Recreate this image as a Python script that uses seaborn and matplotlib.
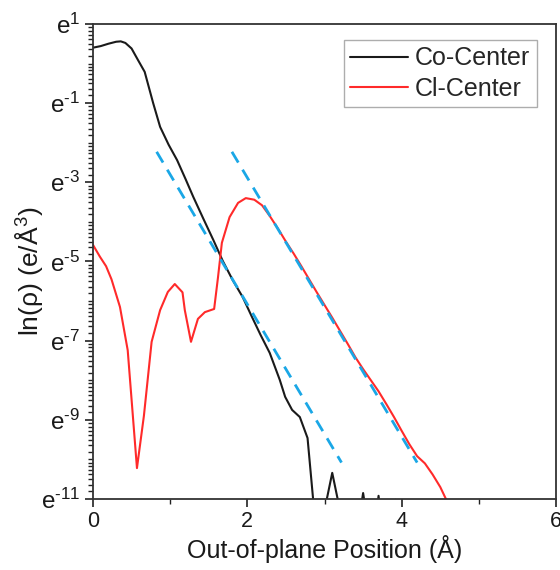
import numpy as np
import pandas as pd
import matplotlib
matplotlib.use("Agg")
import matplotlib.pyplot as plt
from matplotlib.ticker import FixedLocator, FixedFormatter, NullFormatter
import seaborn as sns

# Out-of-plane density profiles, values given as ln(rho)
co_x = [0.00, 0.10, 0.20, 0.30, 0.36, 0.42, 0.50, 0.58, 0.67, 0.78, 0.87, 0.98,
        1.09, 1.20, 1.30, 1.43, 1.56, 1.68, 1.81, 1.94, 2.05, 2.17, 2.29, 2.42,
        2.49, 2.58, 2.68, 2.78, 2.88, 3.00, 3.03, 3.10, 3.17, 3.44, 3.50, 3.56,
        3.66, 3.70, 3.74, 3.88, 3.92, 3.96, 4.10]
co_ln = [0.40, 0.44, 0.50, 0.55, 0.56, 0.52, 0.38, 0.10, -0.21, -1.00, -1.60, -2.05,
         -2.44, -2.92, -3.37, -3.92, -4.46, -4.98, -5.47, -5.90, -6.36, -6.85, -7.31, -7.99,
         -8.42, -8.75, -8.93, -9.46, -11.6, -11.6, -11.0, -10.34, -11.0, -11.6, -10.85, -11.6,
         -11.6, -10.92, -11.6, -11.6, -11.02, -11.6, -11.6]

cl_x = [0.00, 0.09, 0.17, 0.24, 0.35, 0.45, 0.57, 0.66, 0.76, 0.87, 0.97, 1.06,
        1.16, 1.19, 1.27, 1.36, 1.45, 1.57, 1.62, 1.67, 1.77, 1.88, 1.98, 2.09,
        2.19, 2.29, 2.40, 2.50, 2.60, 2.70, 2.80, 2.90, 3.00, 3.10, 3.20, 3.30,
        3.40, 3.50, 3.60, 3.70, 3.80, 3.90, 4.00, 4.10, 4.20, 4.30, 4.40, 4.50,
        4.58, 4.66]
cl_ln = [-4.58, -4.88, -5.12, -5.45, -6.15, -7.24, -10.22, -8.90, -7.03, -6.23, -5.77, -5.57,
         -5.78, -6.23, -7.03, -6.45, -6.28, -6.20, -5.40, -4.53, -3.88, -3.52, -3.40, -3.44,
         -3.58, -3.85, -4.18, -4.50, -4.80, -5.12, -5.45, -5.78, -6.10, -6.42, -6.75, -7.08,
         -7.42, -7.72, -8.00, -8.28, -8.60, -8.93, -9.28, -9.62, -9.92, -10.10, -10.38, -10.70,
         -11.03, -11.6]

# Exponential-decay fits (straight lines in ln(rho))
fit1_x = [0.825, 3.22]
fit1_ln = [-2.23, -10.08]
fit2_x = [1.80, 4.20]
fit2_ln = [-2.23, -10.08]

series_names = ["Co-Center", "Cl-Center"]
series_colors = ["#1a1a1a", "#ff2a2a"]
fit_color = "#1aa7e6"

y_exponents = [1, -1, -3, -5, -7, -9, -11]
x_major = [0, 2, 4, 6]
x_minor = [1, 3, 5]

sns.set_theme(style="ticks")
plt.rcParams["font.family"] = ["Liberation Sans", "DejaVu Sans"]
plt.rcParams["mathtext.fontset"] = "custom"
plt.rcParams["mathtext.rm"] = "Liberation Sans"
plt.rcParams["mathtext.it"] = "Liberation Sans:italic"

df = pd.concat([
    pd.DataFrame({"x": co_x, "rho": np.exp(co_ln), "series": series_names[0]}),
    pd.DataFrame({"x": cl_x, "rho": np.exp(cl_ln), "series": series_names[1]}),
])

fig = plt.figure(figsize=(5.6, 5.7), dpi=100)
ax = fig.add_axes([0.166, 0.1246, 0.827, 0.8334])

sns.lineplot(data=df, x="x", y="rho", hue="series", hue_order=series_names,
             palette=series_colors, estimator=None, sort=False, linewidth=1.5, ax=ax)

for fx, fl in [(fit1_x, fit1_ln), (fit2_x, fit2_ln)]:
    ax.plot(fx, np.exp(fl), color=fit_color, linewidth=2.0, linestyle=(0, (4.5, 3)),
            zorder=3)

ax.set_yscale("log", base=np.e)
ax.set_ylim(np.exp(-11), np.exp(1))
ax.set_xlim(0, 6)


def exp_label(k):
    sign = r"\text{-}" if k < 0 else ""
    return r"$\mathregular{e^{%s%d}}$" % (sign, abs(k))


ax.yaxis.set_major_locator(FixedLocator([np.exp(k) for k in y_exponents]))
ax.yaxis.set_major_formatter(FixedFormatter([exp_label(k) for k in y_exponents]))
minor_y = []
for k in range(-11, 1):
    for j in range(1, 8):
        minor_y.append(np.exp(k) * (1 + j * (np.e - 1) / 8))
    minor_y.append(np.exp(k))
ax.yaxis.set_minor_locator(FixedLocator(minor_y))
ax.yaxis.set_minor_formatter(NullFormatter())

ax.xaxis.set_major_locator(FixedLocator(x_major))
ax.xaxis.set_minor_locator(FixedLocator(x_minor))
ax.set_xticklabels([str(v) for v in x_major])

ax.tick_params(axis="both", which="major", direction="out", length=6, width=1.2,
               color="#222222", labelsize=15.5, labelcolor="#1a1a1a", pad=3)
ax.tick_params(axis="both", which="minor", direction="out", length=3.5, width=1.0,
               color="#222222")
ax.tick_params(axis="y", which="major", labelsize=17.5)

for s in ax.spines.values():
    s.set_color("#333333")
    s.set_linewidth(1.3)

ax.set_xlabel("Out-of-plane Position (Å)", fontsize=18, color="#1a1a1a", labelpad=2)
ax.set_ylabel(r"ln(ρ) (e/Å$\mathregular{^3}$)", fontsize=19, color="#1a1a1a",
              labelpad=0)
ax.yaxis.set_label_coords(-0.104, 0.48)

leg = ax.legend(loc="upper right", bbox_to_anchor=(0.958, 0.966), fontsize=18,
                frameon=True, fancybox=False, handlelength=2.3, handletextpad=0.3,
                borderpad=0.25, labelspacing=0.25, borderaxespad=0.0)
leg.get_frame().set_edgecolor("#999999")
leg.get_frame().set_linewidth(1.0)
for line in leg.get_lines():
    line.set_linewidth(1.5)

fig.savefig("out.png", dpi=100)
